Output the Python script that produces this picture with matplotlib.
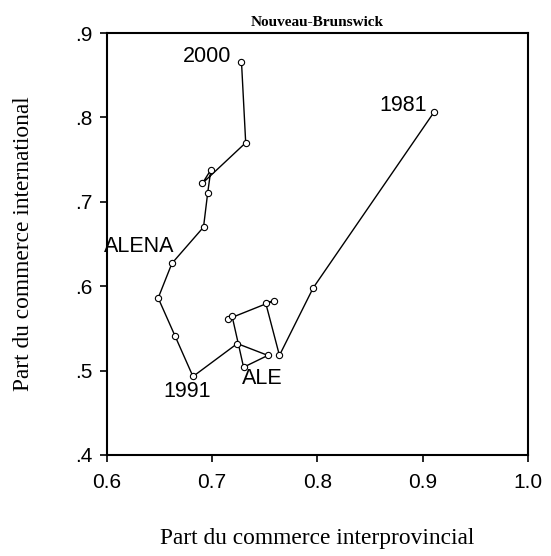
import matplotlib
matplotlib.use("Agg")
import matplotlib.pyplot as plt

# trajectoire 1981-2000 : part interprovinciale (x) vs internationale (y)
years = list(range(1981, 2001))
interprov = [0.911, 0.796, 0.764, 0.751, 0.759, 0.715, 0.719, 0.730, 0.753, 0.724,
             0.682, 0.665, 0.649, 0.662, 0.692, 0.696, 0.699, 0.691, 0.732, 0.728]
internat = [0.807, 0.598, 0.518, 0.580, 0.583, 0.561, 0.565, 0.504, 0.518, 0.532,
            0.493, 0.541, 0.586, 0.627, 0.670, 0.711, 0.738, 0.722, 0.770, 0.866]

xticks = [0.6, 0.7, 0.8, 0.9, 1.0]
xticklabels = ["0.6", "0.7", "0.8", "0.9", "1.0"]
yticks = [0.4, 0.5, 0.6, 0.7, 0.8, 0.9]
yticklabels = [".4", ".5", ".6", ".7", ".8", ".9"]

# etiquettes : (texte, annee du point, decalage en pixels, alignement)
notes = [("1981", 1981, (-8, 6), "right"),
         ("2000", 2000, (-10, 5), "right"),
         ("ALENA", 1994, (3, 17), "right"),
         ("1991", 1991, (-6, -15), "center"),
         ("ALE", 1988, (-2, -11), "left")]

sans = "Liberation Sans"
serif = "Liberation Serif"

fig = plt.figure(figsize=(5.51, 5.56), dpi=100)
ax = fig.add_axes([0.1933, 0.1817, 0.7655, 0.7589])

ax.plot(interprov, internat, color="black", lw=1.0, marker="o", ms=4.5,
        mfc="white", mec="black", mew=0.8)

for txt, yr, off, ha in notes:
    i = years.index(yr)
    ax.annotate(txt, (interprov[i], internat[i]), xytext=off, textcoords="offset pixels",
                ha=ha, va="center", fontsize=15.5, family=sans, annotation_clip=False)

ax.set_xlim(0.6, 1.0)
ax.set_ylim(0.4, 0.9)
ax.set_xticks(xticks)
ax.set_xticklabels(xticklabels, family=sans, fontsize=15)
ax.set_yticks(yticks)
ax.set_yticklabels(yticklabels, family=sans, fontsize=15)
ax.tick_params(direction="out", length=5, width=1.2, pad=5)
ax.tick_params(axis="x", pad=8)

for s in ax.spines.values():
    s.set_linewidth(1.5)

ax.set_title("Nouveau-Brunswick", family=serif, fontweight="bold", fontsize=11, pad=5)
ax.set_xlabel("Part du commerce interprovincial", family=serif, fontsize=16.8, labelpad=26)
ax.set_ylabel("Part du commerce international", family=serif, fontsize=16.8, labelpad=30)

fig.savefig("out.png", dpi=100)
